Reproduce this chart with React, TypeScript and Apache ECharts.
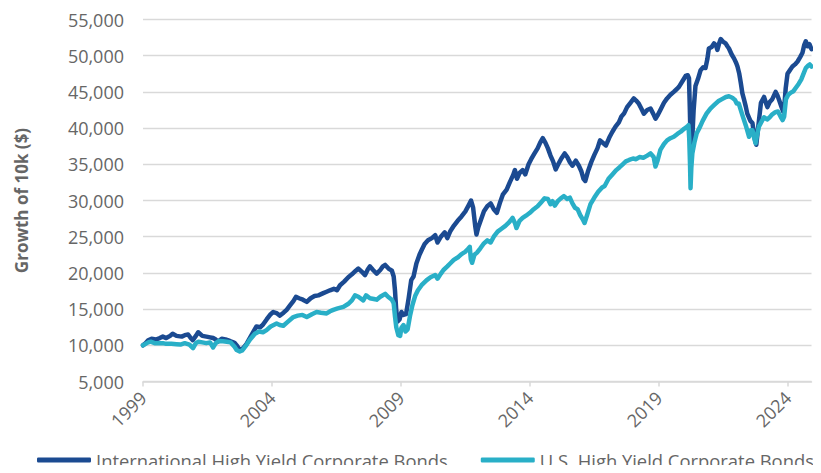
import React, { useEffect, useRef } from "react";
import * as echarts from "echarts";

const intlYears = [
  1999.0, 1999.1, 1999.2, 1999.33, 1999.5, 1999.65, 1999.77, 1999.9, 2000.05, 2000.15, 2000.3, 2000.5, 2000.62, 2000.75, 2000.85, 2000.93,
  2001.05, 2001.14, 2001.3, 2001.46, 2001.6, 2001.72, 2001.82, 2001.9, 2002.05, 2002.2, 2002.37, 2002.5, 2002.56, 2002.65, 2002.75, 2002.88,
  2003.0, 2003.14, 2003.3, 2003.4, 2003.55, 2003.66, 2003.8, 2003.95, 2004.05, 2004.2, 2004.31, 2004.45, 2004.57, 2004.7, 2004.83, 2004.93,
  2005.05, 2005.2, 2005.35, 2005.5, 2005.65, 2005.8, 2005.99, 2006.12, 2006.25, 2006.4, 2006.52, 2006.64, 2006.8, 2006.96, 2007.1, 2007.25,
  2007.35, 2007.5, 2007.61, 2007.72, 2007.8, 2007.92, 2008.06, 2008.2, 2008.3, 2008.39, 2008.52, 2008.65, 2008.72, 2008.77, 2008.82, 2008.88,
  2008.95, 2009.02, 2009.1, 2009.2, 2009.3, 2009.4, 2009.49, 2009.6, 2009.72, 2009.81, 2009.92, 2010.05, 2010.2, 2010.33, 2010.42, 2010.55,
  2010.7, 2010.8, 2010.92, 2011.05, 2011.2, 2011.35, 2011.5, 2011.62, 2011.72, 2011.8, 2011.88, 2011.93, 2012.0, 2012.1, 2012.22, 2012.35,
  2012.48, 2012.6, 2012.72, 2012.85, 2012.95, 2013.1, 2013.22, 2013.35, 2013.42, 2013.5, 2013.6, 2013.72, 2013.82, 2013.95, 2014.05, 2014.18,
  2014.3, 2014.4, 2014.5, 2014.6, 2014.7, 2014.8, 2014.9, 2015.0, 2015.1, 2015.22, 2015.35, 2015.45, 2015.55, 2015.65, 2015.78, 2015.9,
  2016.0, 2016.08, 2016.15, 2016.25, 2016.38, 2016.5, 2016.62, 2016.72, 2016.85, 2016.95, 2017.08, 2017.2, 2017.32, 2017.45, 2017.55, 2017.65,
  2017.77, 2017.9, 2018.03, 2018.12, 2018.22, 2018.32, 2018.42, 2018.55, 2018.68, 2018.78, 2018.87, 2018.96, 2019.06, 2019.2, 2019.32, 2019.45,
  2019.58, 2019.7, 2019.78, 2019.92, 2020.04, 2020.12, 2020.17, 2020.2, 2020.23, 2020.26, 2020.3, 2020.35, 2020.42, 2020.52, 2020.62, 2020.72,
  2020.81, 2020.88, 2020.94, 2021.05, 2021.14, 2021.22, 2021.27, 2021.33, 2021.4, 2021.5, 2021.59, 2021.66, 2021.72, 2021.82, 2021.92, 2022.0,
  2022.05, 2022.12, 2022.18, 2022.24, 2022.3, 2022.37, 2022.43, 2022.55, 2022.63, 2022.72, 2022.78, 2022.85, 2022.96, 2023.08, 2023.15, 2023.21,
  2023.3, 2023.4, 2023.53, 2023.6, 2023.66, 2023.75, 2023.82, 2023.86, 2023.92, 2023.99, 2024.1, 2024.18, 2024.28, 2024.38, 2024.48, 2024.57,
  2024.64, 2024.7, 2024.77, 2024.84, 2024.92,
];
const intlValues = [
  10000, 10300, 10700, 10900, 10800, 11000, 11200, 11000, 11300, 11600, 11300, 11200, 11400, 11500, 11000, 10700,
  11300, 11800, 11300, 11200, 11100, 11000, 10800, 10500, 10900, 10800, 10600, 10400, 10300, 9900, 9350, 9600,
  10100, 11000, 12000, 12600, 12500, 12900, 13600, 14300, 14600, 14400, 14100, 14500, 14900, 15500, 16100, 16700,
  16500, 16300, 16000, 16500, 16800, 16900, 17200, 17400, 17600, 17800, 17600, 18300, 18800, 19400, 19800, 20300,
  20600, 20100, 19700, 20500, 20900, 20400, 19900, 20400, 20900, 21100, 20600, 20300, 19500, 17600, 14800, 13300,
  13600, 14600, 14200, 14300, 16500, 19000, 19500, 21300, 22500, 23200, 24000, 24500, 24800, 25200, 24200, 25000,
  25600, 24800, 25800, 26500, 27200, 27800, 28500, 29300, 30000, 29000, 26500, 25300, 26300, 27300, 28500, 29200,
  29600, 28800, 28300, 29800, 30800, 31500, 32500, 33500, 34200, 33000, 33800, 34200, 33600, 35000, 35700, 36500,
  37200, 38000, 38600, 38000, 37200, 36200, 35400, 34300, 35000, 35800, 36500, 36000, 35300, 34800, 35500, 34800,
  34000, 33000, 32700, 34000, 35300, 36300, 37200, 38300, 37900, 37600, 38700, 39500, 40200, 40800, 41600, 42000,
  42900, 43500, 44100, 43800, 43400, 42700, 42000, 42500, 42700, 42000, 41300, 41800, 42500, 43500, 44100, 44600,
  45000, 45400, 45700, 46500, 47200, 47300, 46900, 43000, 38500, 37200, 38800, 42500, 45800, 46800, 48000, 48400,
  48300, 49500, 51000, 51200, 51700, 51400, 50800, 51600, 52300, 51900, 51700, 51300, 51000, 50200, 49600, 49000,
  48500, 47500, 46200, 44800, 44000, 43000, 42000, 41000, 40700, 38500, 37700, 40000, 43500, 44300, 43500, 42900,
  43600, 44000, 45000, 44500, 43900, 43000, 42300, 42800, 45500, 47500, 48100, 48500, 48800, 49200, 49800, 50400,
  51500, 52000, 51300, 51600, 50900,
];

const usYears = [
  1999.0, 1999.1, 1999.2, 1999.3, 1999.45, 1999.6, 1999.77, 1999.9, 2000.1, 2000.3, 2000.45, 2000.62, 2000.8, 2000.94, 2001.05, 2001.15,
  2001.3, 2001.45, 2001.6, 2001.72, 2001.82, 2001.95, 2002.1, 2002.25, 2002.4, 2002.55, 2002.63, 2002.75, 2002.85, 2003.0, 2003.15, 2003.34,
  2003.5, 2003.65, 2003.79, 2003.95, 2004.18, 2004.3, 2004.44, 2004.6, 2004.83, 2005.0, 2005.18, 2005.35, 2005.55, 2005.73, 2005.9, 2006.12,
  2006.25, 2006.38, 2006.55, 2006.77, 2006.95, 2007.1, 2007.22, 2007.35, 2007.54, 2007.65, 2007.8, 2007.95, 2008.06, 2008.2, 2008.39, 2008.5,
  2008.65, 2008.72, 2008.77, 2008.82, 2008.9, 2008.97, 2009.02, 2009.1, 2009.18, 2009.26, 2009.36, 2009.45, 2009.55, 2009.66, 2009.8, 2010.0,
  2010.15, 2010.33, 2010.42, 2010.55, 2010.65, 2010.8, 2010.91, 2011.05, 2011.23, 2011.35, 2011.49, 2011.6, 2011.67, 2011.71, 2011.76, 2011.85,
  2011.95, 2012.08, 2012.2, 2012.35, 2012.48, 2012.6, 2012.75, 2012.9, 2013.05, 2013.2, 2013.33, 2013.42, 2013.48, 2013.6, 2013.72, 2013.85,
  2014.0, 2014.15, 2014.3, 2014.45, 2014.57, 2014.7, 2014.8, 2014.88, 2014.97, 2015.08, 2015.2, 2015.32, 2015.45, 2015.55, 2015.65, 2015.75,
  2015.85, 2015.95, 2016.05, 2016.12, 2016.22, 2016.35, 2016.5, 2016.65, 2016.8, 2016.9, 2017.05, 2017.2, 2017.35, 2017.48, 2017.6, 2017.72,
  2017.85, 2018.0, 2018.12, 2018.25, 2018.4, 2018.55, 2018.68, 2018.8, 2018.87, 2018.95, 2019.06, 2019.2, 2019.32, 2019.45, 2019.58, 2019.72,
  2019.85, 2019.98, 2020.1, 2020.15, 2020.18, 2020.21, 2020.23, 2020.26, 2020.3, 2020.38, 2020.47, 2020.6, 2020.7, 2020.85, 2021.0, 2021.15,
  2021.3, 2021.45, 2021.6, 2021.72, 2021.85, 2021.95, 2022.02, 2022.1, 2022.24, 2022.37, 2022.5, 2022.56, 2022.63, 2022.7, 2022.75, 2022.82,
  2022.88, 2023.0, 2023.08, 2023.2, 2023.3, 2023.4, 2023.52, 2023.62, 2023.72, 2023.8, 2023.86, 2023.93, 2024.02, 2024.12, 2024.22, 2024.32,
  2024.42, 2024.52, 2024.62, 2024.7, 2024.78, 2024.85, 2024.92,
];
const usValues = [
  10000, 10200, 10400, 10500, 10300, 10300, 10300, 10200, 10200, 10150, 10100, 10300, 10100, 9600, 10300, 10500,
  10400, 10300, 10400, 9700, 10300, 10600, 10550, 10500, 10400, 9800, 9350, 9150, 9300, 10000, 10800, 11600,
  11900, 11800, 12100, 12600, 13000, 12800, 12700, 13200, 13900, 14100, 14200, 13900, 14300, 14600, 14500, 14400,
  14700, 14900, 15100, 15300, 15700, 16200, 16900, 16700, 16200, 16900, 16500, 16400, 16300, 16700, 17100, 16700,
  16300, 15800, 14000, 12500, 11400, 11300, 12400, 12800, 11900, 12200, 14200, 15600, 16800, 17600, 18300, 19000,
  19400, 19700, 19200, 19900, 20400, 20900, 21300, 21800, 22200, 22600, 22900, 23300, 23600, 21900, 21400, 22500,
  22800, 23400, 24000, 24500, 24200, 25000, 25700, 26100, 26500, 27000, 27600, 26900, 26200, 27200, 27600, 27900,
  28300, 28800, 29200, 29800, 30300, 30200, 29500, 29900, 29300, 29900, 30300, 30600, 30200, 30400, 29600, 29000,
  28800, 28000, 27400, 26900, 28000, 29500, 30400, 31200, 31800, 32000, 33000, 33600, 34200, 34600, 35000, 35400,
  35600, 35800, 35700, 36000, 35900, 36200, 36500, 36000, 34700, 35500, 37000, 37800, 38300, 38600, 38800, 39200,
  39500, 39900, 40200, 40400, 38500, 35000, 31700, 34500, 36500, 38000, 39300, 40200, 41000, 42000, 42700, 43200,
  43700, 44000, 44300, 44400, 44200, 43900, 43400, 43400, 41800, 40400, 38800, 39700, 39700, 38600, 37900, 39200,
  40200, 41000, 41500, 41200, 41500, 41900, 42200, 42300, 41600, 41100, 41600, 44000, 44600, 44900, 45100, 45600,
  46100, 46700, 47600, 48300, 48600, 48800, 48500,
];

const seriesNames = ["International High Yield Corporate Bonds", "U.S. High Yield Corporate Bonds"];
const yearTicks = [1999, 2004, 2009, 2014, 2019, 2024];
const yTitle = "Growth of 10k ($)";

const pair = (xs: number[], ys: number[]) => xs.map((x, i) => [x, ys[i]]);

export default function App() {
  const ref = useRef<HTMLDivElement>(null);
  useEffect(() => {
    if (!ref.current) return;
    const chart = echarts.init(ref.current, null, { renderer: "svg" });
    const font = "'Open Sans', 'Noto Sans', sans-serif";
    chart.setOption({
      animation: false,
      textStyle: { fontFamily: font },
      grid: { left: 143, right: 9.5, top: 19.5, bottom: 91.5 },
      legend: {
        data: seriesNames,
        top: 451,
        left: 37,
        width: 820,
        padding: 0,
        itemWidth: 54,
        itemHeight: 5,
        itemGap: 33,
        icon: "roundRect",
        textStyle: { fontFamily: font, fontSize: 18.4, color: "#666666", padding: [0, 0, 5, 0] },
      },
      xAxis: {
        type: "value",
        min: 1999,
        max: 2024.92,
        axisLine: { show: true, lineStyle: { color: "#d9d9d9", width: 1.5 } },
        axisTick: { show: true, customValues: yearTicks, length: 5, lineStyle: { color: "#d9d9d9", width: 1.5 } },
        axisLabel: {
          customValues: yearTicks,
          rotate: 45,
          margin: 13,
          fontSize: 18,
          color: "#666666",
          fontFamily: font,
          formatter: (v: number) => String(Math.round(v)),
        },
        splitLine: { show: false },
      },
      yAxis: {
        type: "value",
        min: 5000,
        max: 55000,
        interval: 5000,
        name: yTitle,
        nameLocation: "middle",
        nameGap: 113,
        nameTextStyle: { fontFamily: font, fontSize: 17, fontWeight: "bold", color: "#666666" },
        axisLine: { show: false },
        axisTick: { show: false },
        axisLabel: {
          margin: 19,
          fontSize: 18,
          color: "#666666",
          fontFamily: font,
          formatter: (v: number) => v.toLocaleString("en-US"),
        },
        splitLine: { lineStyle: { color: "#d9d9d9", width: 1.3 } },
      },
      series: [
        {
          name: seriesNames[0],
          type: "line",
          data: pair(intlYears, intlValues),
          showSymbol: false,
          symbol: "none",
          lineStyle: { color: "#1b4a91", width: 4.5, join: "round", cap: "round" },
          itemStyle: { color: "#1b4a91" },
        },
        {
          name: seriesNames[1],
          type: "line",
          data: pair(usYears, usValues),
          showSymbol: false,
          symbol: "none",
          lineStyle: { color: "#29afc7", width: 4.5, join: "round", cap: "round" },
          itemStyle: { color: "#29afc7" },
        },
      ],
    });
    return () => chart.dispose();
  }, []);
  return <div ref={ref} style={{ width: 821, height: 473, margin: -8 }} />;
}
